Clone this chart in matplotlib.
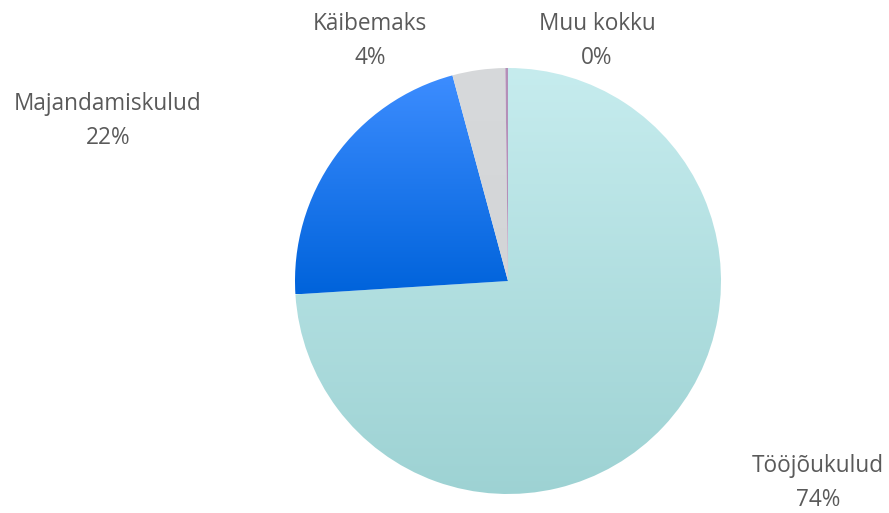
import numpy as np
import matplotlib
matplotlib.use("Agg")
import matplotlib.pyplot as plt
from matplotlib.colors import LinearSegmentedColormap

categories = ["Tööjõukulud", "Majandamiskulud", "Käibemaks", "Muu kokku"]
values = [74.0, 21.8, 4.0, 0.2]
pct_labels = ["74%", "22%", "4%", "0%"]

# gradient colours (top, bottom) per slice
grad_colors = [("#c6ecee", "#9dd2d3"), ("#3d8dff", "#0063db"),
               ("#d7d9db", "#d3d5d7"), ("#b48fb8", "#b48fb8")]

W, H = 889, 513
fig = plt.figure(figsize=(W / 100, H / 100), dpi=100)
ax = fig.add_axes([0, 0, 1, 1])

cx, cy, r = 508, H - 281, 213
wedges, _ = ax.pie(values, startangle=90, counterclock=False, center=(cx, cy),
                   radius=r, frame=True,
                   colors=[c[1] for c in grad_colors],
                   wedgeprops=dict(linewidth=0))
ax.set_xlim(0, W)
ax.set_ylim(0, H)
ax.set_aspect("equal")
ax.axis("off")

grad = np.linspace(0, 1, 256).reshape(-1, 1)
for w, (top, bot) in zip(wedges, grad_colors):
    verts = w.get_patch_transform().transform(w.get_path().vertices)
    x0, y0 = verts.min(axis=0)
    x1, y1 = verts.max(axis=0)
    cmap = LinearSegmentedColormap.from_list("g", [bot, top])
    im = ax.imshow(grad, cmap=cmap, origin="lower", aspect="auto",
                   extent=(x0, x1, y0, y1), zorder=w.get_zorder() + 0.1)
    im.set_clip_path(w)
    w.set_facecolor("none")
ax.set_xlim(0, W)
ax.set_ylim(0, H)

label_pos = [(818, 483), (108, 121), (370, 41), (597, 41)]
for name, pct, (x, y) in zip(categories, pct_labels, label_pos):
    ax.text(x, H - y, f"{name}\n{pct}", ha="center", va="center",
            fontsize=16.3, color="#5a5a5a", family="Open Sans", linespacing=1.5)

fig.savefig("out.png", dpi=100)
